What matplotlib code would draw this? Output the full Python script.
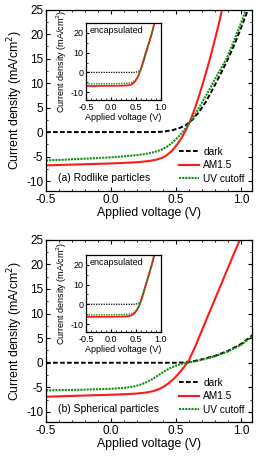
import matplotlib
matplotlib.use('Agg')
import matplotlib.pyplot as plt
from matplotlib.ticker import MultipleLocator, FormatStrFormatter

plt.rcParams['font.family'] = ['Liberation Sans', 'DejaVu Sans']
plt.rcParams['axes.unicode_minus'] = False

# ---- (a) Rodlike particles, main panel ----
a_dark_v = [-0.5, 0.3, 0.38, 0.43, 0.48, 0.53, 0.58, 0.63, 0.68, 0.73, 0.79, 0.85, 0.9, 0.95, 1.0, 1.06]
a_dark_j = [0.0, 0.0, 0.05, 0.2, 0.45, 0.85, 1.5, 2.6, 4.2, 6.2, 9.1, 12.2, 14.9, 17.9, 21.2, 25.4]
a_am_v = [-0.5, -0.25, 0.0, 0.1, 0.2, 0.28, 0.34, 0.39, 0.43, 0.47, 0.51, 0.55, 0.58, 0.61,
          0.645, 0.685, 0.72, 0.76, 0.8, 0.83, 0.86]
a_am_j = [-6.8, -6.6, -6.4, -6.3, -6.15, -5.95, -5.7, -5.3, -4.7, -3.8, -2.5, -0.9, 0.6, 2.3,
          4.8, 8.0, 11.1, 14.8, 18.9, 22.1, 25.6]
a_uv_v = [-0.5, -0.25, 0.0, 0.1, 0.2, 0.27, 0.33, 0.38, 0.43, 0.47, 0.51, 0.55, 0.6, 0.65,
          0.7, 0.76, 0.81, 0.89, 0.95, 1.0, 1.045]
a_uv_j = [-5.8, -5.5, -5.15, -4.95, -4.7, -4.45, -4.1, -3.7, -3.0, -2.2, -1.2, -0.1, 1.7, 3.7,
          6.0, 8.8, 11.3, 15.0, 18.8, 22.2, 25.5]

# ---- (a) inset (encapsulated) ----
ai_dark_v = [-0.5, 0.45, 0.5, 0.55, 0.6, 0.65, 0.7, 0.76, 0.82, 0.875]
ai_dark_j = [0.0, 0.0, 0.1, 0.5, 1.5, 5.0, 9.5, 14.6, 19.8, 25.4]
ai_am_v = [-0.5, 0.0, 0.25, 0.35, 0.4, 0.44, 0.48, 0.52, 0.56, 0.6, 0.65, 0.7, 0.76, 0.82, 0.875]
ai_am_j = [-6.9, -6.8, -6.7, -6.5, -6.2, -5.6, -4.6, -3.1, -1.0, 1.8, 6.0, 10.2, 15.0, 20.0, 25.5]
ai_uv_v = [-0.5, 0.0, 0.25, 0.35, 0.4, 0.44, 0.48, 0.52, 0.56, 0.6, 0.65, 0.7, 0.76, 0.82, 0.875]
ai_uv_j = [-5.8, -5.7, -5.6, -5.45, -5.2, -4.8, -4.1, -2.9, -0.9, 1.9, 6.1, 10.3, 15.1, 20.1, 25.6]

# ---- (b) Spherical particles, main panel ----
b_dark_v = [-0.5, 0.5, 0.55, 0.6, 0.65, 0.7, 0.8, 0.9, 1.0, 1.05, 1.1]
b_dark_j = [0.0, 0.0, 0.05, 0.2, 0.4, 0.7, 1.4, 2.4, 3.8, 4.8, 5.8]
b_am_v = [-0.5, -0.25, 0.0, 0.1, 0.2, 0.27, 0.32, 0.36, 0.4, 0.44, 0.48, 0.52, 0.56, 0.6,
          0.65, 0.7, 0.76, 0.83, 0.89, 0.95, 1.0]
b_am_j = [-6.9, -6.7, -6.5, -6.4, -6.25, -6.05, -5.8, -5.45, -4.95, -4.25, -3.35, -2.25, -0.95, 0.5,
          3.4, 6.6, 10.4, 14.8, 18.6, 22.4, 25.5]
b_uv_v = [-0.5, -0.25, 0.0, 0.1, 0.17, 0.22, 0.27, 0.31, 0.35, 0.39, 0.43, 0.47, 0.51, 0.55,
          0.6, 0.65, 0.7, 0.8, 0.9, 1.0, 1.05, 1.1]
b_uv_j = [-5.6, -5.5, -5.3, -5.1, -4.85, -4.5, -4.0, -3.45, -2.8, -2.1, -1.45, -0.9, -0.5, -0.2,
          0.05, 0.3, 0.6, 1.3, 2.3, 3.6, 4.6, 5.7]

# ---- (b) inset (encapsulated) ----
bi_dark_v = [-0.5, 0.45, 0.5, 0.55, 0.6, 0.65, 0.7, 0.76, 0.82, 0.875]
bi_dark_j = [0.0, 0.0, 0.1, 0.5, 1.5, 5.0, 9.5, 14.6, 19.8, 25.4]
bi_am_v = [-0.5, 0.0, 0.25, 0.35, 0.4, 0.44, 0.48, 0.52, 0.56, 0.6, 0.65, 0.7, 0.76, 0.82, 0.87]
bi_am_j = [-6.4, -6.3, -6.2, -6.0, -5.7, -5.2, -4.3, -2.9, -0.9, 1.8, 6.0, 10.2, 15.2, 20.4, 25.5]
bi_uv_v = [-0.5, 0.0, 0.25, 0.35, 0.4, 0.44, 0.48, 0.52, 0.56, 0.6, 0.65, 0.7, 0.76, 0.82, 0.87]
bi_uv_j = [-5.4, -5.3, -5.2, -5.05, -4.8, -4.4, -3.8, -2.7, -0.8, 1.9, 6.1, 10.3, 15.3, 20.5, 25.6]

labels = ['dark', 'AM1.5', 'UV cutoff']
titles = ['(a) Rodlike particles', '(b) Spherical particles']

RED = '#ff1a1a'
GREEN = '#109010'
YLABEL = 'Current density (mA/cm$^2$)'


def style_axes(ax, fs, major_y, minor_y):
    ax.tick_params(which='both', direction='in', top=True, right=True,
                   labelsize=fs, pad=2)
    ax.tick_params(which='major', length=3, width=0.8)
    ax.tick_params(which='minor', length=1.6, width=0.6)
    ax.xaxis.set_major_locator(MultipleLocator(0.5))
    ax.xaxis.set_minor_locator(MultipleLocator(0.1))
    ax.yaxis.set_major_locator(MultipleLocator(major_y))
    ax.yaxis.set_minor_locator(MultipleLocator(minor_y))
    ax.xaxis.set_major_formatter(FormatStrFormatter('%.1f'))
    for s in ax.spines.values():
        s.set_linewidth(0.9)


def draw_main(ax, dark, am, uv, title):
    ax.plot(dark[0], dark[1], color='black', ls=(0, (2.4, 1.2)), lw=1.4, label=labels[0])
    ax.plot(am[0], am[1], color=RED, ls='-', lw=1.5, label=labels[1])
    ax.plot(uv[0], uv[1], color=GREEN, ls=(0, (1, 0.5)), lw=1.5, label=labels[2])
    ax.set_xlim(-0.5, 1.085)
    ax.set_ylim(-12, 25)
    style_axes(ax, 8.5, 5, 2.5)
    ax.set_xlabel('Applied voltage (V)', fontsize=8.8, labelpad=1)
    ax.set_ylabel(YLABEL, fontsize=8.8, labelpad=1)
    ax.text(-0.41, -9.3, title, fontsize=7.5, va='center', ha='left')
    ax.legend(loc='lower right', frameon=False, fontsize=7.3, handlelength=2.0,
              handletextpad=0.4, labelspacing=0.35, borderaxespad=0.3)


def draw_inset(ax, dark, am, uv):
    ax.plot(dark[0], dark[1], color='black', ls=(0, (1, 1)), lw=0.9)
    ax.plot(am[0], am[1], color=RED, ls='-', lw=1.3)
    ax.plot(uv[0], uv[1], color=GREEN, ls=(0, (1, 0.8)), lw=1.0)
    ax.set_xlim(-0.5, 1.0)
    ax.set_ylim(-14, 25)
    style_axes(ax, 6.5, 10, 5)
    ax.tick_params(which='both', top=False, right=False)
    ax.tick_params(which='major', length=2.2)
    ax.tick_params(which='minor', length=1.2)
    ax.set_xlabel('Applied voltage (V)', fontsize=6.5, labelpad=1)
    ax.set_ylabel(YLABEL, fontsize=6.5, labelpad=1)
    ax.text(-0.42, 21, 'encapsulated', fontsize=6.5, va='center', ha='left')


fig = plt.figure(figsize=(2.6, 4.61), dpi=100)

ax1 = fig.add_axes([0.177, 0.586, 0.792, 0.393])
draw_main(ax1, (a_dark_v, a_dark_j), (a_am_v, a_am_j), (a_uv_v, a_uv_j), titles[0])
ins1 = fig.add_axes([0.331, 0.783, 0.288, 0.167])
draw_inset(ins1, (ai_dark_v, ai_dark_j), (ai_am_v, ai_am_j), (ai_uv_v, ai_uv_j))

ax2 = fig.add_axes([0.177, 0.085, 0.792, 0.395])
draw_main(ax2, (b_dark_v, b_dark_j), (b_am_v, b_am_j), (b_uv_v, b_uv_j), titles[1])
ins2 = fig.add_axes([0.331, 0.280, 0.288, 0.167])
draw_inset(ins2, (bi_dark_v, bi_dark_j), (bi_am_v, bi_am_j), (bi_uv_v, bi_uv_j))

fig.savefig('out.png', dpi=100)
